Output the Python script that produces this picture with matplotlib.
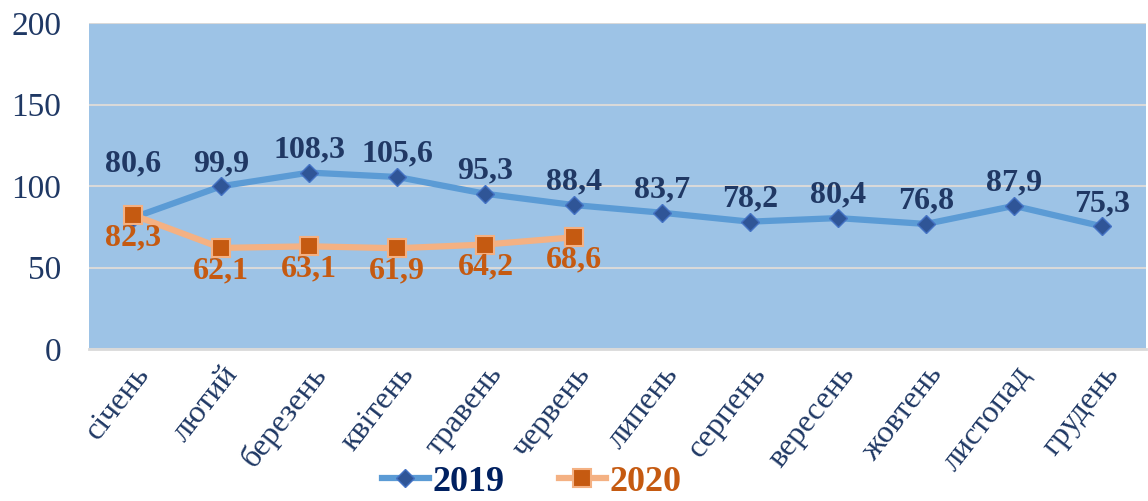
import matplotlib.pyplot as plt
import numpy as np

months = ["січень", "лютий", "березень", "квітень", "травень", "червень",
          "липень", "серпень", "вересень", "жовтень", "листопад", "грудень"]
values_2019 = [80.6, 99.9, 108.3, 105.6, 95.3, 88.4, 83.7, 78.2, 80.4, 76.8, 87.9, 75.3]
values_2020 = [82.3, 62.1, 63.1, 61.9, 64.2, 68.6]
y_ticks = [0, 50, 100, 150, 200]

NAVY = "#1f3864"
DARK_BLUE = "#203864"
ORANGE = "#c55a11"

plt.rcParams["font.family"] = ["Liberation Serif", "DejaVu Serif"]

fig = plt.figure(figsize=(11.48, 5.01), dpi=100)
ax = fig.add_axes([0.0775, 0.303, 0.921, 0.651])
ax.set_facecolor("#9dc3e6")

x = np.arange(len(months))
x20 = np.arange(len(values_2020))

ax.plot(x, values_2019, color="#5b9bd5", lw=4.5, marker="D", ms=9,
        mfc="#2f5597", mec="#4472c4", mew=1, label="2019", zorder=3)
ax.plot(x20, values_2020, color="#f4b183", lw=4.5, marker="s", ms=13,
        mfc=ORANGE, mec="#f4b183", mew=1.5, label="2020", zorder=4)

def fmt(v):
    return f"{v:.1f}".replace(".", ",")

# data labels: 2019 above the points, 2020 below
for i, (xi, v) in enumerate(zip(x, values_2019)):
    off = 28 if i == 0 else 6
    ax.annotate(fmt(v), (xi, v), xytext=(0, off), textcoords="offset points",
                ha="center", va="bottom", fontsize=23, fontweight="bold",
                color=DARK_BLUE, zorder=5)
for xi, v in zip(x20, values_2020):
    ax.annotate(fmt(v), (xi, v), xytext=(0, -6), textcoords="offset points",
                ha="center", va="top", fontsize=23, fontweight="bold",
                color=ORANGE, zorder=5)

ax.set_xlim(-0.5, len(months) - 0.5)
ax.set_ylim(0, 200)
ax.set_yticks(y_ticks)
ax.set_yticklabels([str(t) for t in y_ticks], fontsize=24, color=NAVY)
ax.set_xticks(x)
ax.set_xticklabels(months, fontsize=23, color=NAVY, rotation=52,
                   ha="right", va="top", rotation_mode="anchor")
ax.tick_params(axis="y", length=0, pad=20)
ax.tick_params(axis="x", length=0, pad=8)
ax.yaxis.grid(True, color="#d9d9d9", lw=1.5)
ax.set_axisbelow(True)
for side in ["top", "right", "left"]:
    ax.spines[side].set_visible(False)
ax.spines["bottom"].set_color("#d9d9d9")
ax.spines["bottom"].set_linewidth(2)

leg = fig.legend(loc="lower center", bbox_to_anchor=(0.463, -0.06), ncol=2,
                 frameon=False, prop={"size": 26, "weight": "bold"},
                 handlelength=1.3, columnspacing=1.5, handletextpad=0.1)
for text, col in zip(leg.get_texts(), ["#002060", ORANGE]):
    text.set_color(col)

fig.savefig("out.png", dpi=100)
